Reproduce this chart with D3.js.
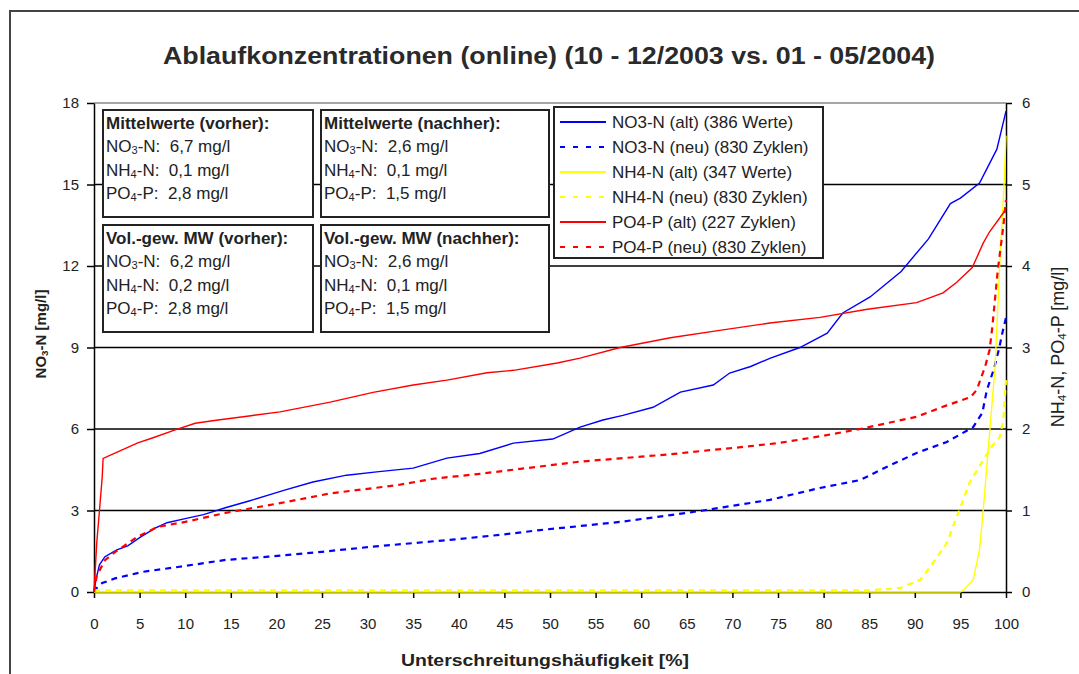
<!DOCTYPE html>
<html><head><meta charset="utf-8">
<script src="https://cdn.jsdelivr.net/npm/d3@7"></script>
<style>
html,body{margin:0;padding:0;background:#fff;}
svg text{font-family:"Liberation Sans",Arial,sans-serif;white-space:pre;}
</style></head>
<body><svg id="c" width="1079" height="674"></svg>
<script>
// ---------- data ----------
const chartTitle = "Ablaufkonzentrationen (online) (10 - 12/2003 vs. 01 - 05/2004)";
const xTicks = [0,5,10,15,20,25,30,35,40,45,50,55,60,65,70,75,80,85,90,95,100];
const leftTicks = [0,3,6,9,12,15,18];
const rightTicks = [0,1,2,3,4,5,6];

// NO3-N (alt) – left axis
const no3AltP = [0,0.2,0.6,1.2,2.5,3.7,5,6.7,8,10,12,14.4,17,20.9,24,27.7,31,35,38.7,42.3,46,50.3,53.3,55.8,58,61.3,64.3,67.9,69.7,72,74.1,77.4,80.4,82.1,85.1,88.5,91.5,93.9,95,97.1,99,100];
const no3AltV = [0,0.45,1.0,1.3,1.55,1.7,2.0,2.35,2.55,2.7,2.85,3.1,3.35,3.75,4.05,4.3,4.42,4.56,4.93,5.1,5.48,5.63,6.07,6.33,6.5,6.8,7.36,7.62,8.06,8.3,8.6,9.0,9.53,10.27,10.86,11.8,13.0,14.3,14.5,15.05,16.3,17.7];
// NO3-N (neu) – left axis
const no3NeuP = [0,0.3,0.9,2.3,5.3,9.2,14.4,19.1,21,25,30,35,40,45,48.9,52.2,57.7,63.2,66.8,70.5,74.1,79.6,84,86.9,90.2,93.5,96.4,97.4,97.9,98.7,99.2,99.6,100];
const no3NeuV = [0,0.15,0.33,0.5,0.74,0.92,1.18,1.3,1.36,1.48,1.65,1.8,1.95,2.12,2.28,2.39,2.58,2.83,3.0,3.2,3.39,3.83,4.12,4.6,5.12,5.52,6.07,6.59,7.43,8.24,8.9,9.53,10.1];
// NH4-N (alt) – right axis
const nh4AltP = [0,95,95.3,96.4,97.1,97.5,98.2,98.8,99.3,99.8,100];
const nh4AltV = [0,0,0.02,0.15,0.52,1.0,1.95,2.76,3.99,5.02,5.6];
// NH4-N (neu) – right axis
const nh4NeuP = [0,85,88.4,90.6,91.7,93.5,95,96,97.5,98.4,99.3,99.7,100];
const nh4NeuV = [0.02,0.02,0.05,0.15,0.31,0.6,1.04,1.34,1.62,1.78,1.9,2.1,2.6];
// PO4-P (alt) – right axis
const po4AltP = [0,0.3,0.6,0.9,1.0,2.6,4.8,6.4,8.9,11.1,13.6,17,20.4,25.9,30.6,35,38.7,43.1,46,50.8,53.3,57.7,63.2,68.6,74.1,79.6,84.8,90.2,93.1,94.6,96.3,97.5,98.2,99.7,100];
const po4AltV = [0,0.6,1.0,1.41,1.64,1.72,1.83,1.89,1.99,2.07,2.11,2.16,2.21,2.33,2.45,2.54,2.6,2.69,2.72,2.81,2.87,3.0,3.12,3.21,3.3,3.37,3.47,3.55,3.67,3.8,3.98,4.28,4.42,4.65,4.72];
// PO4-P (neu) – right axis
const po4NeuP = [0,0.3,1.2,2.3,4.8,7,10,14.4,20.4,25.9,33.2,37.2,42.3,46.7,53.3,57.7,63.2,67.5,71.2,75.2,79.6,84,90.2,93.5,96.1,96.8,97.3,97.7,98.2,98.5,99.1,99.7,100];
const po4NeuV = [0,0.2,0.39,0.49,0.68,0.8,0.86,0.97,1.09,1.21,1.31,1.39,1.45,1.51,1.6,1.64,1.69,1.74,1.78,1.83,1.91,2.0,2.15,2.29,2.39,2.48,2.64,2.76,2.97,3.25,3.95,4.48,4.81];

const legendNames = ["NO3-N (alt) (386 Werte)","NO3-N (neu) (830 Zyklen)","NH4-N (alt) (347 Werte)","NH4-N (neu) (830 Zyklen)","PO4-P (alt) (227 Zyklen)","PO4-P (neu) (830 Zyklen)"];

const boxTitles = ["Mittelwerte (vorher):","Mittelwerte (nachher):","Vol.-gew. MW (vorher):","Vol.-gew. MW (nachher):"];
const boxNO3 = ["6,7","2,6","6,2","2,6"];
const boxNH4 = ["0,1","0,1","0,2","0,1"];
const boxPO4 = ["2,8","1,5","2,8","1,5"];

// ---------- layout ----------
const svg = d3.select("#c");
const X0 = 94, X1 = 1006, Y0 = 592, Y1 = 103;
const x = d3.scaleLinear().domain([0,100]).range([X0,X1]);
const yL = d3.scaleLinear().domain([0,18]).range([Y0,Y1]);
const yR = d3.scaleLinear().domain([0,6]).range([Y0,Y1]);

const zip = (p,v)=>p.map((d,i)=>[d,v[i]]);
const series = [
  {p:no3AltP,v:no3AltV,y:yL,color:"#0000ff",dash:null},
  {p:no3NeuP,v:no3NeuV,y:yL,color:"#0000ff",dash:"6,5"},
  {p:nh4AltP,v:nh4AltV,y:yR,color:"#ffff00",dash:null},
  {p:nh4NeuP,v:nh4NeuV,y:yR,color:"#ffff00",dash:"6,5"},
  {p:po4AltP,v:po4AltV,y:yR,color:"#ff0000",dash:null},
  {p:po4NeuP,v:po4NeuV,y:yR,color:"#ff0000",dash:"6,5"}
];

// outer frame
svg.append("rect").attr("x",10).attr("y",11).attr("width",1100).attr("height",700)
  .attr("fill","none").attr("stroke","#444").attr("stroke-width",2);

// title
svg.append("text").attr("x",549).attr("y",64).attr("text-anchor","middle")
  .attr("font-size",24).attr("font-weight","bold").attr("fill","#2a2a2a")
  .attr("textLength",772).attr("lengthAdjust","spacingAndGlyphs").text(chartTitle);

// gridlines
svg.append("g").selectAll("line").data(leftTicks.filter(d=>d>0&&d<18)).join("line")
  .attr("x1",X0).attr("x2",X1).attr("y1",d=>yL(d)).attr("y2",d=>yL(d))
  .attr("stroke","#000").attr("stroke-width",1.5);
svg.append("line").attr("x1",X0).attr("x2",X1).attr("y1",yL(18)).attr("y2",yL(18))
  .attr("stroke","#888").attr("stroke-width",1.5);

// axes
function styleAxis(g){
  g.select(".domain").attr("stroke","#000").attr("stroke-width",1.5);
  g.selectAll(".tick line").attr("stroke","#000").attr("stroke-width",1.5);
  g.selectAll(".tick text").attr("fill","#222").attr("font-size",15)
   .attr("font-family","'Liberation Sans',Arial,sans-serif");
}
const fmt = d3.format("d");
svg.append("g").attr("transform",`translate(${X0},0)`)
  .call(d3.axisLeft(yL).tickValues(leftTicks).tickFormat(fmt).tickSize(7).tickPadding(8).tickSizeOuter(0))
  .call(styleAxis);
svg.append("g").attr("transform",`translate(${X1},0)`)
  .call(d3.axisRight(yR).tickValues(rightTicks).tickFormat(fmt).tickSize(6).tickPadding(10).tickSizeOuter(0))
  .call(styleAxis);
svg.append("g").attr("transform",`translate(0,${Y0})`)
  .call(d3.axisBottom(x).tickValues(xTicks).tickFormat(fmt).tickSize(6).tickPadding(20).tickSizeOuter(0))
  .call(styleAxis);

// axis titles
svg.append("text").attr("x",545).attr("y",666).attr("text-anchor","middle")
  .attr("font-size",16).attr("font-weight","bold").attr("fill","#222")
  .attr("textLength",288).attr("lengthAdjust","spacingAndGlyphs")
  .text("Unterschreitungshäufigkeit [%]");

function subText(sel, parts, size){
  parts.forEach(pt=>{
    if (typeof pt === "string") sel.append("tspan").text(pt);
    else sel.append("tspan").attr("font-size",size*0.65).attr("baseline-shift","-20%").text(pt.s);
  });
}
const lt = svg.append("text").attr("transform","translate(46,334) rotate(-90)")
  .attr("text-anchor","middle").attr("font-size",15).attr("font-weight","bold").attr("fill","#222");
subText(lt,["NO",{s:"3"},"-N [mg/l]"],15);
const rt = svg.append("text").attr("transform","translate(1064,347) rotate(-90)")
  .attr("text-anchor","middle").attr("font-size",18).attr("fill","#222");
subText(rt,["NH",{s:"4"},"-N, PO",{s:"4"},"-P [mg/l]"],18);

// info boxes
const boxX = [103,321,103,321], boxY=[110,110,225,225], boxW=[210,228,210,228], boxH=107;
boxTitles.forEach((t,i)=>{
  const g = svg.append("g");
  g.append("rect").attr("x",boxX[i]).attr("y",boxY[i]).attr("width",boxW[i]).attr("height",boxH)
    .attr("fill","#fff").attr("stroke","#222").attr("stroke-width",2);
  const tx = boxX[i]+3;
  g.append("text").attr("x",tx).attr("y",boxY[i]+19).attr("font-size",17).attr("font-weight","bold")
    .attr("fill","#222").text(t);
  const l1 = g.append("text").attr("x",tx).attr("y",boxY[i]+42).attr("font-size",17).attr("fill","#222");
  subText(l1,["NO",{s:"3"},"-N:  "+boxNO3[i]+" mg/l"],17);
  const l2 = g.append("text").attr("x",tx).attr("y",boxY[i]+66).attr("font-size",17).attr("fill","#222");
  subText(l2,["NH",{s:"4"},"-N:  "+boxNH4[i]+" mg/l"],17);
  const l3 = g.append("text").attr("x",tx).attr("y",boxY[i]+89).attr("font-size",17).attr("fill","#222");
  subText(l3,["PO",{s:"4"},"-P:  "+boxPO4[i]+" mg/l"],17);
});

// legend
const lg = svg.append("g");
lg.append("rect").attr("x",554).attr("y",107).attr("width",269).attr("height",151)
  .attr("fill","#fff").attr("stroke","#222").attr("stroke-width",2);
legendNames.forEach((n,i)=>{
  const cy = 122 + i*25, s = series[i];
  lg.append("line").attr("x1",560).attr("x2",606).attr("y1",cy).attr("y2",cy)
    .attr("stroke",s.color).attr("stroke-width",2).attr("stroke-dasharray",s.dash ? "5,8" : null);
  lg.append("text").attr("x",612).attr("y",cy+6).attr("font-size",17).attr("fill","#222").text(n);
});

// series lines
series.forEach(s=>{
  const line = d3.line().x(d=>x(d[0])).y(d=>s.y(d[1]));
  svg.append("path").datum(zip(s.p,s.v)).attr("d",line).attr("fill","none")
    .attr("stroke",s.color).attr("stroke-width",s.dash?2.2:1.4)
    .attr("stroke-dasharray",s.dash);
});
</script></body></html>
